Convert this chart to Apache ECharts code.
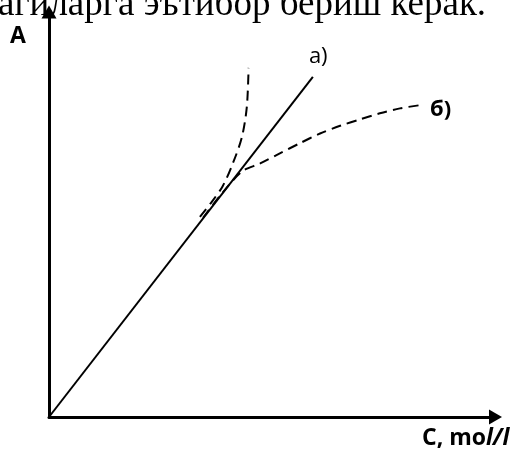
<!DOCTYPE html>
<html>
<head>
<meta charset="utf-8">
<script src="https://cdn.jsdelivr.net/npm/echarts@6/dist/echarts.min.js"></script>
<style>
  html, body { margin: 0; padding: 0; background: #fff; }
  #chart { width: 511px; height: 450px; }
</style>
</head>
<body>
<div id="chart"></div>
<script>
// Beer–Lambert plot: absorbance A versus concentration C
// а) ideal straight line, upward dashed curve = positive deviation, б) negative deviation
const lineA = [[0, 0], [59.1, 84]];
const curveUp = [[33.8, 49.4], [36.5, 53.2], [38.9, 57.0], [41.2, 62.7], [43.2, 69.1], [44.3, 76.5], [44.7, 86.2]];
const curveB = [[34.5, 49.2], [38.3, 54.6], [43.2, 60.6], [47.3, 62.6], [51.7, 65.1], [56.2, 67.6], [60.7, 70.0], [65.2, 71.9], [69.7, 73.5], [74.1, 75.0], [78.6, 76.2], [83.1, 77.0]];
const labelA = 'а)';
const labelB = 'б)';
const yName = 'A';
const headText = 'агиларга эътибор бериш керак.';

const chart = echarts.init(document.getElementById('chart'), null, { renderer: 'canvas' });

const axisCommon = {
  type: 'value',
  min: 0,
  max: 100,
  splitLine: { show: false },
  axisTick: { show: false },
  axisLabel: { show: false },
  axisLine: {
    show: true,
    symbol: ['none', 'triangle'],
    symbolSize: [15, 13],
    lineStyle: { color: '#000', width: 3 }
  }
};

chart.setOption({
  animation: false,
  backgroundColor: '#fff',
  grid: { left: 49, right: 15.5, top: 12, bottom: 33 },
  xAxis: Object.assign({}, axisCommon),
  yAxis: Object.assign({}, axisCommon),
  graphic: [
    {
      type: 'text', left: -2, top: -13, z: -1,
      style: { text: headText, font: '37px "Liberation Serif"', fill: '#000' }
    },
    {
      type: 'text', x: 18, y: 36,
      style: { text: yName, font: 'bold 23px "Open Sans"', fill: '#000', align: 'center', verticalAlign: 'middle' }
    },
    {
      type: 'text', x: 422, y: 438,
      style: {
        text: '{b|C, mo}{i|l/l}',
        verticalAlign: 'middle',
        rich: {
          b: { font: 'bold 23px "Open Sans"', fill: '#000' },
          i: { font: 'italic bold 23px "Open Sans"', fill: '#000' }
        }
      }
    }
  ],
  series: [
    {
      type: 'line', data: lineA, symbol: 'none',
      lineStyle: { color: '#000', width: 2 },
      endLabel: {
        show: true, formatter: labelA, color: '#000',
        fontFamily: 'Open Sans', fontSize: 22, distance: 0, offset: [-4, -20]
      }
    },
    {
      type: 'line', data: curveUp, symbol: 'none', smooth: 0.3,
      lineStyle: { color: '#000', width: 2, type: [10, 6] }
    },
    {
      type: 'line', data: curveB, symbol: 'none', smooth: 0.3,
      lineStyle: { color: '#000', width: 2, type: [10, 6] },
      endLabel: {
        show: true, formatter: labelB, color: '#000', fontWeight: 'bold',
        fontFamily: 'Open Sans', fontSize: 22, distance: 10, offset: [0, 5]
      }
    }
  ]
});
</script>
</body>
</html>
